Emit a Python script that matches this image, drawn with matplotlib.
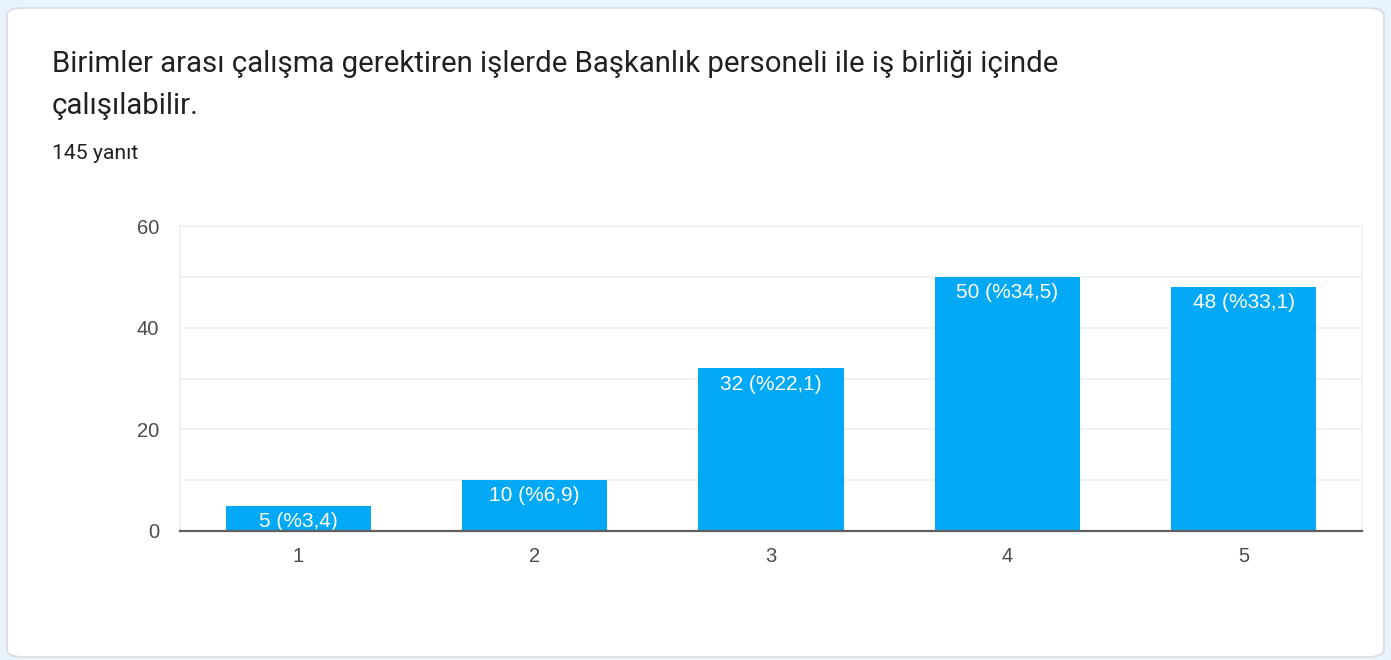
import matplotlib
matplotlib.use("Agg")
import matplotlib.pyplot as plt
from matplotlib.patches import FancyBboxPatch
import numpy as np

title = "Birimler arası çalışma gerektiren işlerde Başkanlık personeli ile iş birliği içinde\nçalışılabilir."
subtitle = "145 yanıt"
categories = ["1", "2", "3", "4", "5"]
counts = [5, 10, 32, 50, 48]
percents = ["3,4", "6,9", "22,1", "34,5", "33,1"]
yticks = [0, 20, 40, 60]

fig = plt.figure(figsize=(13.91, 6.6), dpi=100)
fig.patch.set_facecolor("#e8f3fb")

# card background
card = FancyBboxPatch((7 / 1391, 3 / 660), 1377 / 1391, 649 / 660,
                      boxstyle="round,pad=0,rounding_size=0.012",
                      transform=fig.transFigure, facecolor="white",
                      edgecolor="#dadce0", linewidth=1.2, zorder=-5)
fig.patches.append(card)

fig.text(52 / 1391, 1 - 50 / 660, title, fontsize=21.2, family="Roboto",
         color="#202124", va="top", ha="left", linespacing=1.62)
fig.text(52 / 1391, 1 - 144 / 660, subtitle, fontsize=15.3, family="Roboto",
         color="#202124", va="top", ha="left")

ax = fig.add_axes([180 / 1391, 129 / 660, 1182 / 1391, 305 / 660])
ax.set_facecolor("white")
x = np.arange(1, len(categories) + 1)
bars = ax.bar(x, counts, width=0.615, color="#03a9f4", zorder=3)

for b, c, p in zip(bars, counts, percents):
    ax.annotate(f"{c} (%{p})", (b.get_x() + b.get_width() / 2, c),
                xytext=(0, -4.5), textcoords="offset points",
                ha="center", va="top", color="white", fontsize=15,
                family="Liberation Sans", zorder=4)

ax.set_xlim(0.5, len(categories) + 0.5)
ax.set_ylim(0, 60)
ax.set_yticks(yticks)
ax.set_yticks(np.arange(10, 60, 20), minor=True)
ax.set_xticks(x)
ax.set_xticklabels(categories)
ax.grid(axis="y", which="both", color="#efefef", linewidth=1.2, zorder=0)
ax.tick_params(axis="both", which="both", length=0, labelsize=14.5, labelcolor="#4a4a4a")
ax.tick_params(axis="y", pad=15)
ax.tick_params(axis="x", pad=11.5)
for lab in ax.get_xticklabels() + ax.get_yticklabels():
    lab.set_family("Liberation Sans")

for s in ["left", "right", "top"]:
    ax.spines[s].set_color("#efefef")
    ax.spines[s].set_linewidth(1.2)
ax.spines["bottom"].set_color("#5f5f5f")
ax.spines["bottom"].set_linewidth(1.6)
ax.spines["bottom"].set_zorder(5)

fig.savefig("out.png", dpi=100, facecolor=fig.get_facecolor())
